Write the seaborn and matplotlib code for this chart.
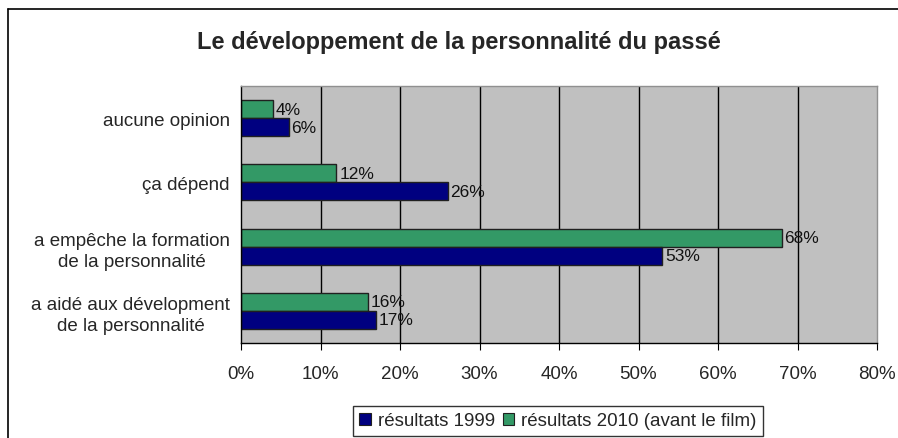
import pandas as pd
import seaborn as sns
import matplotlib
matplotlib.use("Agg")
from matplotlib import pyplot as plt
from matplotlib.lines import Line2D
from matplotlib.patches import Patch

categories = [
    "aucune opinion",
    "ça dépend",
    "a empêche la formation\nde la personnalité",
    "a aidé aux dévelopment\nde la personnalité",
]
values_1999 = [6, 26, 53, 17]
values_2010 = [4, 12, 68, 16]
series = ["résultats 1999", "résultats 2010 (avant le film)"]
xticks = [0, 10, 20, 30, 40, 50, 60, 70, 80]

df = pd.DataFrame({
    "categorie": categories * 2,
    "serie": [series[0]] * 4 + [series[1]] * 4,
    "valeur": values_1999 + values_2010,
})

sns.set_style("white")
plt.rcParams["font.family"] = ["Liberation Sans", "DejaVu Sans"]

colors = {series[0]: "#000080", series[1]: "#339966"}

fig = plt.figure(figsize=(8.98, 4.39), dpi=100)
ax = fig.add_axes([241 / 898, 1 - 344 / 439, 636 / 898, 257 / 439])
ax.set_facecolor("#C0C0C0")

sns.barplot(
    data=df, y="categorie", x="valeur", hue="serie",
    order=categories, hue_order=[series[1], series[0]],
    palette=colors, saturation=1, orient="h", width=0.56, gap=0,
    edgecolor="#202020", linewidth=1, legend=False, ax=ax,
)

# value labels
for cont in ax.containers:
    ax.bar_label(cont, labels=[f"{v:.0f}%" for v in cont.datavalues],
                 padding=2, fontsize=12.5, color="#111111")

ax.set_xlim(0, 80)
ax.set_xticks(xticks)
ax.set_xticklabels([f"{t}%" for t in xticks], fontsize=13.5)
ax.set_ylim(3.5, -0.5)
ax.set_xlabel("")
ax.set_ylabel("")
ax.set_yticks(range(len(categories)))
ax.set_yticklabels(categories, fontsize=13.5, multialignment="center", linespacing=1.35)
ax.set_yticks([-0.5, 0.5, 1.5, 2.5, 3.5], minor=True)
ax.tick_params(axis="y", which="major", length=0, pad=8)
ax.tick_params(axis="y", which="minor", length=5, direction="out", color="black")
ax.tick_params(axis="x", length=5, direction="out", color="black", pad=11, bottom=True)

ax.grid(False)
for t in xticks[1:-1]:
    ax.axvline(t, color="black", linewidth=1, zorder=0.5)

ax.spines["left"].set_color("black")
ax.spines["bottom"].set_color("black")
ax.spines["top"].set_color("#909090")
ax.spines["right"].set_color("#909090")
for s in ax.spines.values():
    s.set_linewidth(1)

fig.text(459 / 898, 1 - 42 / 439, "Le développement de la personnalité du passé",
         ha="center", va="center", fontsize=17, fontweight="bold")

handles = [Patch(facecolor=colors[s], edgecolor="#202020", linewidth=0.8) for s in series]
leg = fig.legend(handles, series, loc="center", bbox_to_anchor=(558 / 898, 1 - 422 / 439),
                 ncol=2, fontsize=13.5, frameon=True, fancybox=False, handlelength=0.6,
                 handleheight=0.6, handletextpad=0.4, columnspacing=0.4,
                 borderpad=0.35, edgecolor="black")
leg.get_frame().set_linewidth(1)

# outer chart border (left and top edges visible)
fig.add_artist(Line2D([8 / 898, 8 / 898], [0, 1 - 10 / 439], color="black", linewidth=1.2,
                      transform=fig.transFigure))
fig.add_artist(Line2D([8 / 898, 1], [1 - 10 / 439, 1 - 10 / 439], color="black", linewidth=1.2,
                      transform=fig.transFigure))

fig.savefig("out.png", dpi=100)
